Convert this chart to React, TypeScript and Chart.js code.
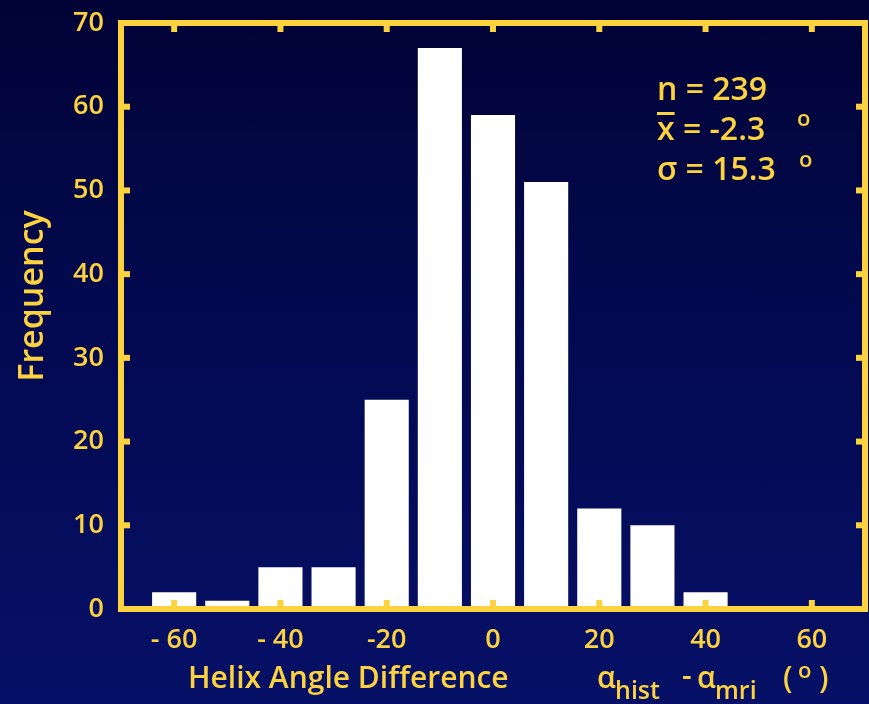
import React, { useEffect, useRef } from 'react';
import { Chart, registerables } from 'chart.js';

Chart.register(...registerables);

// ---- data ----
const binCenters = [-60, -50, -40, -30, -20, -10, 0, 10, 20, 30, 40, 50, 60];
const frequencies = [2, 1, 5, 5, 25, 67, 59, 51, 12, 10, 2, 0, 0];
const xTickValues = [-60, -40, -20, 0, 20, 40, 60];
const xTickLabels = ['- 60', '- 40', '-20', '0', '20', '40', '60'];
const yTickValues = [0, 10, 20, 30, 40, 50, 60, 70];
const statN = 'n = 239';
const statMean = 'x = -2.3';
const statSigma = 'σ = 15.3';
const yTitle = 'Frequency';
const xTitle = 'Helix Angle Difference';

const YELLOW = '#fcd23f';
const FONT = '"Open Sans", "DejaVu Sans", sans-serif';
const W = 600;

const framePlugin = {
  id: 'frameAndText',
  afterDraw(chart: any) {
    const { ctx, chartArea } = chart;
    const xs = chart.scales.x;
    const ys = chart.scales.y;
    const { left, right, top, bottom } = chartArea;
    ctx.save();
    // frame
    ctx.strokeStyle = YELLOW;
    ctx.lineWidth = 6;
    ctx.lineJoin = 'miter';
    ctx.strokeRect(left, top, right - left, bottom - top);
    ctx.fillStyle = YELLOW;
    // inner ticks (y: left & right)
    const tk = 6;
    yTickValues.forEach((v) => {
      if (v === yTickValues[0] || v === yTickValues[yTickValues.length - 1]) return;
      const py = ys.getPixelForValue(v);
      ctx.fillRect(left + 3, py - 3, tk, 6);
      ctx.fillRect(right - 3 - tk, py - 3, tk, 6);
    });
    // inner ticks (x: top & bottom)
    xTickValues.forEach((v) => {
      const px = xs.getPixelForValue(v);
      ctx.fillRect(px - 3, top + 3, 6, tk);
      ctx.fillRect(px - 3, bottom - 3 - tk, 6, tk);
    });

    // y title
    ctx.save();
    ctx.translate(43, 296);
    ctx.rotate(-Math.PI / 2);
    ctx.font = `${W} 34px ${FONT}`;
    ctx.textAlign = 'center';
    ctx.textBaseline = 'alphabetic';
    ctx.fillText(yTitle, 0, 0);
    ctx.restore();

    // stats
    ctx.textAlign = 'left';
    ctx.textBaseline = 'alphabetic';
    ctx.font = `${W} 32px ${FONT}`;
    ctx.fillText(statN, 657, 100);
    ctx.fillText(statMean, 657, 140);
    const xw = ctx.measureText('x').width;
    ctx.fillRect(657, 112, xw, 3);
    ctx.fillText(statSigma, 657, 180);
    ctx.font = `${W} 22px ${FONT}`;
    ctx.fillText('o', 797, 126);
    ctx.fillText('o', 799, 167);

    // x title
    ctx.font = `${W} 30px ${FONT}`;
    ctx.fillText(xTitle, 188, 688);
    ctx.fillText('α', 597, 688);
    ctx.fillText('-', 682, 686);
    ctx.fillText('α', 697, 688);
    ctx.fillText('(', 783, 688);
    ctx.fillText(')', 819, 688);
    ctx.font = `${W} 25px ${FONT}`;
    ctx.fillText('hist', 615, 699);
    ctx.fillText('mri', 715, 699);
    ctx.font = `${W} 22px ${FONT}`;
    ctx.fillText('o', 798, 678);
    ctx.restore();
  },
};

export default function App() {
  const canvasRef = useRef<HTMLCanvasElement | null>(null);

  useEffect(() => {
    document.body.style.margin = '0';
    const canvas = canvasRef.current;
    if (!canvas) return;
    const chart = new Chart(canvas, {
      type: 'bar',
      data: {
        datasets: [
          {
            data: binCenters.map((x, i) => ({ x, y: frequencies[i] })),
            backgroundColor: '#ffffff',
            borderWidth: 0,
            barPercentage: 0.83,
            categoryPercentage: 1.0,
          },
        ],
      },
      options: {
        responsive: false,
        animation: false,
        devicePixelRatio: 1,
        layout: { padding: { left: 0, right: 4, top: 23, bottom: 0 } },
        plugins: { legend: { display: false }, tooltip: { enabled: false } },
        scales: {
          x: {
            type: 'linear',
            min: -70,
            max: 70,
            offset: false,
            grid: { display: false, drawTicks: false, offset: false },
            border: { display: false },
            afterBuildTicks: (scale: any) => {
              scale.ticks = xTickValues.map((v) => ({ value: v }));
            },
            afterFit: (scale: any) => {
              scale.height = 95;
              scale.paddingLeft = 0;
              scale.paddingRight = 0;
            },
            ticks: {
              color: YELLOW,
              font: { family: FONT, size: 27, weight: W },
              padding: 15,
              maxRotation: 0,
              autoSkip: false,
              callback: (v: any) => {
                const i = xTickValues.indexOf(Number(v));
                return i >= 0 ? xTickLabels[i] : '';
              },
            },
          },
          y: {
            type: 'linear',
            min: 0,
            max: 70,
            grid: { display: false, drawTicks: false },
            border: { display: false },
            afterBuildTicks: (scale: any) => {
              scale.ticks = yTickValues.map((v) => ({ value: v }));
            },
            afterFit: (scale: any) => {
              scale.width = 121;
              scale.paddingTop = 0;
              scale.paddingBottom = 0;
            },
            ticks: {
              color: YELLOW,
              font: { family: FONT, size: 27, weight: W },
              padding: 17,
              autoSkip: false,
              callback: (v: any) => String(v),
            },
          },
        },
      },
      plugins: [framePlugin],
    } as any);
    return () => chart.destroy();
  }, []);

  return (
    <div
      style={{
        width: 869,
        height: 704,
        background: 'linear-gradient(to bottom, #010336 0%, #030a52 50%, #061066 100%)',
      }}
    >
      <canvas ref={canvasRef} width={869} height={704} style={{ display: 'block' }} />
    </div>
  );
}
